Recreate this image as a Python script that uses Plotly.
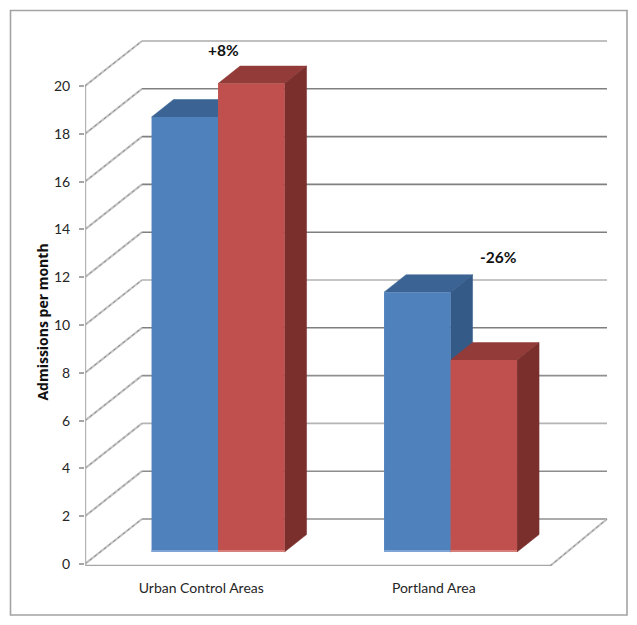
import plotly.graph_objects as go

# ---- data ----
categories = ["Urban Control Areas", "Portland Area"]
series_before = [18.2, 10.87]
series_after = [19.6, 8.03]
change_labels = ["+8%", "-26%"]
y_ticks = [0, 2, 4, 6, 8, 10, 12, 14, 16, 18, 20]

# ---- canvas and scale ----
W, H = 637, 625
PL, PR, PT, PB = 85, 610, 30, 566      # plot area in pixels
PX_X = 232.5                            # pixels per category
PX_Y = 23.9                             # pixels per y unit
x_lo = -0.5
x_hi = x_lo + (PR - PL) / PX_X
y_lo = -2 / PX_Y
y_hi = y_lo + (PB - PT) / PX_Y
WALL_DX, WALL_DY = 57 / PX_X, 45 / PX_Y   # oblique offset to the back wall
BAR_DX, BAR_DY = 22 / PX_X, 17.5 / PX_Y   # bar depth
BASE = 12 / PX_Y                          # bar floor level
SHIFT = 16.8 / PX_X                       # bar plane shift
BAR_W = 66.5 / PX_X
STRIP = 2 / PX_Y

BLUE, RED = "#4f81bd", "#c0504d"
BLUE_TOP, RED_TOP = "#3b6494", "#933b38"
BLUE_SIDE, RED_SIDE = "#345a87", "#7b2f2d"
BLUE_LOW, RED_LOW = "#7fa5d6", "#d97f7b"
grid_colors = ["#8f8f8f", "#8c8c8c", "#b4b4b4", "#8f8f8f", "#7f7f7f", "#b2b2b2",
               "#7f7f7f", "#808080", "#808080", "#808080", "#ababab"]

fig = go.Figure()


def line(xs, ys, color, width, dash=None):
    fig.add_trace(go.Scatter(x=xs, y=ys, mode="lines", hoverinfo="skip", showlegend=False,
                             line=dict(color=color, width=width, dash=dash)))


def poly(xs, ys, color):
    fig.add_trace(go.Scatter(x=xs, y=ys, mode="lines", fill="toself", fillcolor=color,
                             line=dict(color=color, width=0.5), hoverinfo="skip", showlegend=False))


# back wall gridlines and oblique side-wall lines
x_wall = x_lo + WALL_DX
x_front_end = x_lo + len(categories)
for t, c in zip(y_ticks, grid_colors):
    line([x_wall, x_front_end + WALL_DX], [t + WALL_DY] * 2, c, 1.6)
    line([x_lo, x_wall], [t, t + WALL_DY], "#c4c4c4", 2.2)
    line([x_lo, x_wall], [t, t + WALL_DY], "#8a8a8a", 1, "dot")

# floor and the y-axis line
line([x_front_end, x_front_end + WALL_DX], [y_lo, WALL_DY], "#c4c4c4", 2.2)
line([x_front_end, x_front_end + WALL_DX], [y_lo, WALL_DY], "#8a8a8a", 1, "dot")
line([x_lo, x_front_end], [y_lo, y_lo], "#a6a6a6", 2.4)
line([x_lo, x_lo], [y_lo, 20], "#b3b3b3", 2.4)

# top and side faces of the bars
for i, (vals, top, side, left_off) in enumerate([
    (series_before, BLUE_TOP, BLUE_SIDE, -BAR_W),
    (series_after, RED_TOP, RED_SIDE, 0),
]):
    for k, v in enumerate(vals):
        x0 = k + SHIFT + left_off
        x1 = x0 + BAR_W
        yt = BASE + v
        poly([x0, x1, x1 + BAR_DX, x0 + BAR_DX, x0], [yt, yt, yt + BAR_DY, yt + BAR_DY, yt], top)
        poly([x1, x1 + BAR_DX, x1 + BAR_DX, x1, x1],
             [yt, yt + BAR_DY, BASE + BAR_DY, BASE, yt], side)

# front faces: real bars on an overlaid axis pair so they sit above the depth faces
cat_pos = list(range(len(categories)))
for vals, col, low, off in [(series_before, BLUE, BLUE_LOW, -BAR_W), (series_after, RED, RED_LOW, 0)]:
    fig.add_trace(go.Bar(x=cat_pos, y=vals, base=BASE, width=BAR_W, offset=SHIFT + off,
                         marker=dict(color=col, line=dict(width=0)), xaxis="x2", yaxis="y2",
                         showlegend=False, hoverinfo="skip"))
    fig.add_trace(go.Bar(x=cat_pos, y=[STRIP] * len(vals), base=BASE, width=BAR_W, offset=SHIFT + off,
                         marker=dict(color=low, line=dict(width=0)), xaxis="x2", yaxis="y2",
                         showlegend=False, hoverinfo="skip"))

TICKFONT = dict(family="Lato, 'Open Sans', sans-serif", size=14, color="#262626")
dom_x = [PL / W, PR / W]
dom_y = [(H - PB) / H, (H - PT) / H]

fig.update_layout(
    width=W, height=H, margin=dict(l=0, r=0, t=0, b=0, pad=0, autoexpand=False), autosize=False,
    paper_bgcolor="white", plot_bgcolor="white", barmode="overlay", showlegend=False,
    xaxis=dict(domain=dom_x, range=[x_lo, x_hi], tickmode="array", tickvals=cat_pos,
               ticktext=categories, showgrid=False, zeroline=False, showline=False, ticks="",
               tickfont=TICKFONT, ticklabelstandoff=12, automargin=False),
    yaxis=dict(domain=dom_y, range=[y_lo, y_hi], tickmode="array", tickvals=y_ticks,
               showgrid=False, zeroline=False, showline=False, ticks="outside", ticklen=5,
               tickwidth=1.5, tickcolor="#a6a6a6", tickfont=TICKFONT, ticklabelstandoff=6,
               automargin=False),
    xaxis2=dict(overlaying="x", matches="x", visible=False),
    yaxis2=dict(overlaying="y", matches="y", visible=False),
    shapes=[dict(type="rect", xref="paper", yref="paper", x0=10.5 / W, x1=627 / W,
                 y0=(H - 615) / H, y1=(H - 10.5) / H, line=dict(color="#a3a3a3", width=1.6),
                 fillcolor="rgba(0,0,0,0)", layer="below")],
    annotations=[
        dict(text=f"<b>{change_labels[0]}</b>", x=0 + 0.095, y=21.5, xref="x", yref="y",
             showarrow=False, font=dict(family="Lato, sans-serif", size=15.5, color="#111111")),
        dict(text=f"<b>{change_labels[1]}</b>", x=1 + 0.277, y=12.83, xref="x", yref="y",
             showarrow=False, font=dict(family="Lato, sans-serif", size=15.5, color="#111111")),
        dict(text="<b>Admissions per month</b>", xref="paper", yref="y", x=43 / W, y=10.1,
             xanchor="center", yanchor="middle", textangle=-90, showarrow=False,
             font=dict(family="'Open Sans', sans-serif", size=14, color="#111111")),
    ],
)

fig.write_html("out.html", config=dict(displayModeBar=False),
               post_script="document.body.style.margin='0';")
